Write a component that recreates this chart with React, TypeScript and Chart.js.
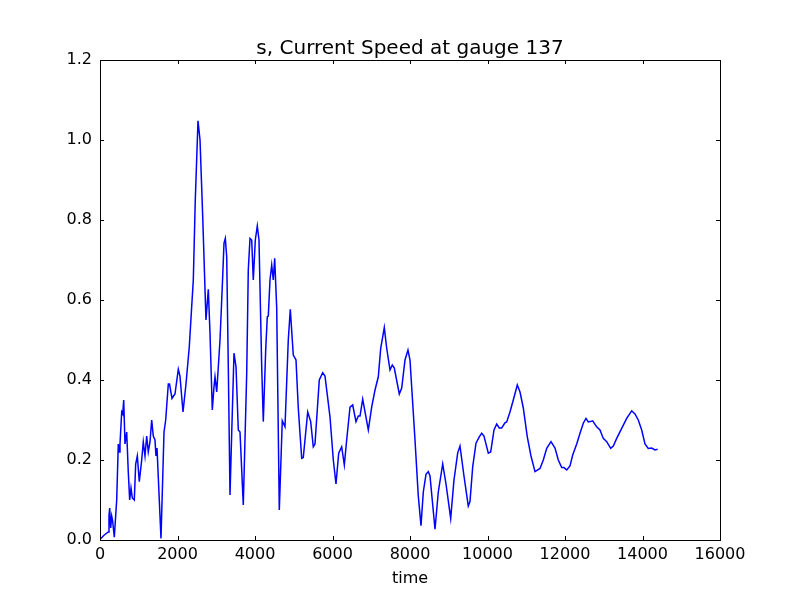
import React, { useEffect, useRef } from "react";
import { Chart, registerables } from "chart.js";

Chart.register(...registerables);

const TITLE = "s, Current Speed at gauge 137";
const X_LABEL = "time";

const timeValues: number[] = [
  0, 26, 103, 214, 232, 250, 276, 302, 323, 369, 431, 472, 498, 516, 560, 586, 612, 645, 689, 730,
  766, 800, 834, 885, 921, 963, 1014, 1076, 1117, 1161, 1205, 1246, 1290, 1334, 1375, 1419, 1445, 1471,
  1574, 1652, 1695, 1763, 1794, 1858, 1897, 1935, 2021, 2064, 2142, 2219, 2304, 2366, 2408, 2459, 2529,
  2581, 2650, 2735, 2795, 2839, 2898, 2942, 2968, 3012, 3097, 3166, 3200, 3234, 3270, 3311, 3355, 3399,
  3458, 3510, 3569, 3613, 3698, 3786, 3827, 3871, 3915, 3956, 4008, 4059, 4103, 4173, 4214, 4276, 4317,
  4343, 4387, 4431, 4472, 4508, 4560, 4627, 4704, 4774, 4859, 4911, 4988, 5058, 5117, 5205, 5246, 5360,
  5437, 5504, 5548, 5659, 5747, 5806, 5935, 6021, 6090, 6160, 6237, 6305, 6366, 6452, 6521, 6606, 6666,
  6710, 6779, 6924, 7012, 7097, 7182, 7244, 7337, 7398, 7484, 7543, 7595, 7724, 7786, 7871, 7948, 8000,
  8129, 8214, 8284, 8343, 8413, 8472, 8516, 8645, 8730, 8844, 8929, 9050, 9135, 9231, 9290, 9393, 9504,
  9548, 9618, 9703, 9788, 9850, 9909, 10021, 10082, 10168, 10237, 10304, 10366, 10451, 10495, 10580,
  10666, 10769, 10839, 10924, 11027, 11122, 11226, 11355, 11440, 11528, 11638, 11742, 11827, 11915,
  11974, 12044, 12129, 12199, 12302, 12387, 12472, 12541, 12601, 12645, 12714, 12817, 12903, 12988,
  13076, 13179, 13247, 13334, 13463, 13592, 13721, 13806, 13891, 13979, 14064, 14149, 14237, 14322, 14391,
];

const speedValues: number[] = [
  0.003, 0.004, 0.012, 0.02, 0.06, 0.08, 0.03, 0.06, 0.05, 0.007, 0.1, 0.24, 0.22, 0.24, 0.32, 0.315, 0.35, 0.24, 0.27, 0.17,
  0.1, 0.13, 0.105, 0.1, 0.19, 0.21, 0.146, 0.2, 0.245, 0.21, 0.26, 0.22, 0.245, 0.3, 0.26, 0.25, 0.21, 0.23,
  0.004, 0.27, 0.3, 0.39, 0.39, 0.354, 0.36, 0.365, 0.427, 0.41, 0.32, 0.39, 0.483, 0.583, 0.65, 0.85, 1.048,
  1.0, 0.81, 0.55, 0.627, 0.517, 0.325, 0.383, 0.408, 0.37, 0.5, 0.658, 0.742, 0.754, 0.708, 0.433, 0.1125, 0.267,
  0.467, 0.433, 0.275, 0.27, 0.0875, 0.417, 0.675, 0.754, 0.75, 0.65, 0.75, 0.785, 0.75, 0.433, 0.296, 0.475, 0.558,
  0.56, 0.65, 0.6875, 0.65, 0.704, 0.58, 0.075, 0.298, 0.283, 0.5, 0.577, 0.4625, 0.45, 0.33, 0.204, 0.206, 0.32,
  0.296, 0.233, 0.24, 0.4, 0.418, 0.41, 0.308, 0.2, 0.14, 0.217, 0.233, 0.1875, 0.25, 0.332, 0.3375, 0.296, 0.31,
  0.31, 0.352, 0.275, 0.333, 0.375, 0.408, 0.479, 0.531, 0.48, 0.425, 0.4375, 0.43, 0.365, 0.38, 0.45, 0.475, 0.45,
  0.25, 0.11, 0.036, 0.12, 0.164, 0.171, 0.16, 0.027, 0.12, 0.19, 0.14, 0.054, 0.15, 0.218, 0.235, 0.16, 0.085,
  0.096, 0.183, 0.242, 0.258, 0.267, 0.26, 0.217, 0.22, 0.275, 0.29, 0.28, 0.28, 0.293, 0.295, 0.32,
  0.35, 0.3875, 0.37, 0.33, 0.258, 0.21, 0.171, 0.179, 0.2, 0.229, 0.246, 0.23, 0.2, 0.181,
  0.181, 0.175, 0.185, 0.2125, 0.24, 0.267, 0.292, 0.304, 0.295, 0.296, 0.298, 0.283, 0.275, 0.254,
  0.246, 0.229, 0.235, 0.254, 0.279, 0.304, 0.323, 0.315, 0.3, 0.275, 0.24, 0.229, 0.23, 0.225, 0.227,
];

const xTicks: number[] = [0, 2000, 4000, 6000, 8000, 10000, 12000, 14000, 16000];
const yTicks: number[] = [0, 0.2, 0.4, 0.6, 0.8, 1.0, 1.2];

const FONT = "'DejaVu Sans', sans-serif";

const framePlugin = {
  id: "mplFrame",
  afterDraw(chart: any) {
    const { ctx, chartArea } = chart;
    const { left, right, top, bottom } = chartArea;
    const xs = chart.scales.x;
    const ys = chart.scales.y;
    const len = 4;
    ctx.save();
    ctx.strokeStyle = "#000";
    ctx.lineWidth = 1;
    ctx.beginPath();
    for (const v of xTicks) {
      const px = Math.round(xs.getPixelForValue(v)) + 0.5;
      ctx.moveTo(px, bottom);
      ctx.lineTo(px, bottom - len);
      ctx.moveTo(px, top);
      ctx.lineTo(px, top + len);
    }
    for (const v of yTicks) {
      const py = Math.round(ys.getPixelForValue(v)) + 0.5;
      ctx.moveTo(left, py);
      ctx.lineTo(left + len, py);
      ctx.moveTo(right, py);
      ctx.lineTo(right - len, py);
    }
    ctx.stroke();
    ctx.strokeRect(Math.round(left) + 0.5, Math.round(top) + 0.5, Math.round(right - left), Math.round(bottom - top));
    // axes title, centred over the plot area like matplotlib
    ctx.fillStyle = "#000";
    ctx.font = `20px ${FONT}`;
    ctx.textAlign = "center";
    ctx.textBaseline = "alphabetic";
    ctx.fillText(TITLE, (left + right) / 2, top - 6);
    ctx.restore();
  },
};

export default function App() {
  const canvasRef = useRef<HTMLCanvasElement | null>(null);

  useEffect(() => {
    document.body.style.margin = "0";
    const canvas = canvasRef.current;
    if (!canvas) return;
    const data = timeValues.map((t, i) => ({ x: t, y: speedValues[i] }));
    const chart = new Chart(canvas, {
      type: "line",
      data: {
        datasets: [
          {
            data,
            borderColor: "#0000ff",
            borderWidth: 1.5,
            pointRadius: 0,
            fill: false,
            tension: 0,
          },
        ],
      },
      options: {
        animation: false,
        responsive: false,
        devicePixelRatio: 1,
        layout: { padding: { left: 0, right: 80, top: 60, bottom: 0 } },
        plugins: {
          legend: { display: false },
          tooltip: { enabled: false },
          title: { display: false },
        },
        scales: {
          x: {
            type: "linear",
            min: 0,
            max: 16000,
            afterBuildTicks: (scale: any) => {
              scale.ticks = xTicks.map((v) => ({ value: v }));
            },
            afterFit: (scale: any) => {
              scale.height = 60;
            },
            grid: { display: false, drawTicks: false },
            border: { display: false },
            ticks: {
              color: "#000",
              font: { family: FONT, size: 16 },
              padding: 5,
              maxRotation: 0,
              autoSkip: false,
              callback: (v: any) => String(v),
            },
            title: {
              display: true,
              text: X_LABEL,
              color: "#000",
              font: { family: FONT, size: 16 },
              padding: { top: 0, bottom: 12 },
            },
          },
          y: {
            type: "linear",
            min: 0,
            max: 1.2,
            afterBuildTicks: (scale: any) => {
              scale.ticks = yTicks.map((v) => ({ value: v }));
            },
            afterFit: (scale: any) => {
              scale.width = 100;
            },
            grid: { display: false, drawTicks: false },
            border: { display: false },
            ticks: {
              color: "#000",
              font: { family: FONT, size: 16 },
              padding: 8,
              autoSkip: false,
              callback: (v: any) => Number(v).toFixed(1),
            },
          },
        },
      },
      plugins: [framePlugin],
    });
    return () => chart.destroy();
  }, []);

  return (
    <div style={{ position: "absolute", left: 0, top: 0, width: 800, height: 600, background: "#fff" }}>
      <canvas ref={canvasRef} width={800} height={600} style={{ width: 800, height: 600 }} />
    </div>
  );
}
